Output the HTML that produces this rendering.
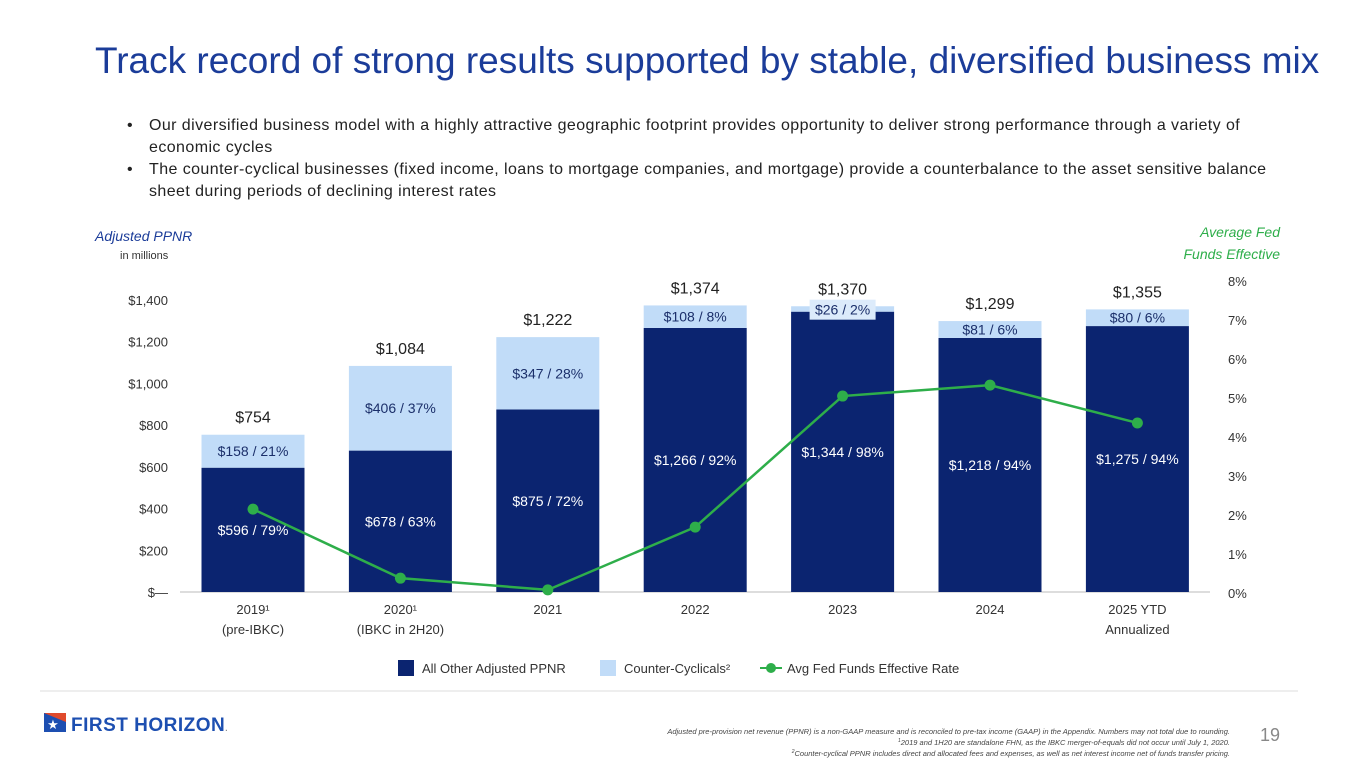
<!DOCTYPE html>
<html><head><meta charset="utf-8"><style>
body{margin:0;width:1365px;height:768px;background:#fff;font-family:"Liberation Sans",sans-serif;overflow:hidden;position:relative}
.t{position:absolute}
.b{display:flex}
.b .d{width:22px;flex:none;letter-spacing:0}
</style></head><body>
<div class="t" style="left:95px;top:40px;font-size:37px;color:#1b3c99">Track record of strong results supported by stable, diversified business mix</div>
<div class="t" style="left:127px;top:115px;width:1220px;font-size:16px;letter-spacing:0.42px;line-height:22px;color:#222;white-space:nowrap">
<div class="b"><span class="d">•</span><span>Our diversified business model with a highly attractive geographic footprint provides opportunity to deliver strong performance through a variety of<br>economic cycles</span></div>
<div class="b"><span class="d">•</span><span>The counter-cyclical businesses (fixed income, loans to mortgage companies, and mortgage) provide a counterbalance to the asset sensitive balance<br>sheet during periods of declining interest rates</span></div>
</div>
<svg id="c" width="1365" height="768" style="position:absolute;left:0;top:0" font-family="Liberation Sans, sans-serif">
<text x="95" y="241" font-size="14" font-style="italic" fill="#1b3c99">Adjusted PPNR</text>
<text x="120" y="259" font-size="11" fill="#333">in millions</text>
<text x="1280" y="237" font-size="14" font-style="italic" fill="#2eae4a" text-anchor="end">Average Fed</text>
<text x="1280" y="259" font-size="14" font-style="italic" fill="#2eae4a" text-anchor="end">Funds Effective</text>
<line x1="180" y1="592" x2="1210" y2="592" stroke="#bbb"/>
<g id="g"></g>
<g font-size="13" fill="#333">
<rect x="398" y="660" width="16" height="16" fill="#0b2470"/>
<text x="422" y="673">All Other Adjusted PPNR</text>
<rect x="600" y="660" width="16" height="16" fill="#c1dcf8"/>
<text x="624" y="673">Counter-Cyclicals²</text>
<line x1="760" y1="668" x2="782" y2="668" stroke="#2eae4a" stroke-width="2"/>
<circle cx="771" cy="668" r="5" fill="#2eae4a"/>
<text x="787" y="673">Avg Fed Funds Effective Rate</text>
</g>
<line x1="40" y1="691" x2="1298" y2="691" stroke="#ddd"/>
<g>
<rect x="44" y="713" width="22" height="19" fill="#1d4fb1"/>
<polygon points="44,713 66,713 66,722" fill="#e04a2c"/>
<text x="53" y="729" font-size="13" fill="#fff" text-anchor="middle">★</text>
<text x="71" y="731" font-size="19" font-weight="bold" fill="#1d4fb1" letter-spacing="0.5">FIRST HORIZON<tspan font-size="8" fill="#888">.</tspan></text>
</g>
<g font-size="7.5" font-style="italic" fill="#444" text-anchor="end">
<text x="1230" y="734">Adjusted pre-provision net revenue (PPNR) is a non-GAAP measure and is reconciled to pre-tax income (GAAP) in the Appendix. Numbers may not total due to rounding.</text>
<text x="1230" y="745"><tspan font-size="5" dy="-3">1</tspan><tspan dy="3">2019 and 1H20 are standalone FHN, as the IBKC merger-of-equals did not occur until July 1, 2020.</tspan></text>
<text x="1230" y="756"><tspan font-size="5" dy="-3">2</tspan><tspan dy="3">Counter-cyclical PPNR includes direct and allocated fees and expenses, as well as net interest income net of funds transfer pricing.</tspan></text>
</g>
<text x="1260" y="741" font-size="18" fill="#888">19</text>
</svg>
<script>
const categories=["2019¹|(pre-IBKC)","2020¹|(IBKC in 2H20)","2021","2022","2023","2024","2025 YTD|Annualized"];
const otherVals=[596,678,875,1266,1344,1218,1275];
const otherPct=[79,63,72,92,98,94,94];
const counterVals=[158,406,347,108,26,81,80];
const counterPct=[21,37,28,8,2,6,6];
const totals=[754,1084,1222,1374,1370,1299,1355];
const rates=[2.15,0.38,0.08,1.69,5.05,5.33,4.36];
const yTicks=[0,200,400,600,800,1000,1200,1400];
const rTicks=[0,1,2,3,4,5,6,7,8];
const NS="http://www.w3.org/2000/svg";
const g=document.getElementById('g');
const y=v=>592-v*292/1400;
const yr=v=>593-v*39;
const xc=i=>253+i*147.4;
const bw=103;
function el(t,a,txt){const e=document.createElementNS(NS,t);for(const k in a)e.setAttribute(k,a[k]);if(txt!=null)e.textContent=txt;g.appendChild(e);return e;}
const fmt=v=>'$'+v.toLocaleString('en-US');
yTicks.forEach(v=>{const e=el('text',{x:168,y:y(v)+5,'font-size':13,fill:'#333','text-anchor':'end'},v===0?'$—':fmt(v));

});
rTicks.forEach(v=>{const e=el('text',{x:1228,y:yr(v)+5,'font-size':13,fill:'#333'},v+'%');

});
categories.forEach((c,i)=>{const x=xc(i);
const d=el('rect',{x:x-bw/2,y:y(otherVals[i]),width:bw,height:592-y(otherVals[i]),fill:'#0b2470'});


const top=otherVals[i]+counterVals[i];
const l=el('rect',{x:x-bw/2,y:y(top),width:bw,height:y(otherVals[i])-y(top),fill:'#c1dcf8'});


const a=el('text',{x:x,y:(y(otherVals[i])+592)/2+5,'font-size':14,fill:'#fff','text-anchor':'middle'},fmt(otherVals[i])+' / '+otherPct[i]+'%');


let ly=(y(otherVals[i])+y(top))/2+5;
if(y(otherVals[i])-y(top)<16){ly=y(otherVals[i])+3;
const bx=el('rect',{x:x-33,y:ly-15,width:66,height:20,fill:'#dcebfb'});

}
const b=el('text',{x:x,y:ly,'font-size':14,fill:'#1b2f6a','text-anchor':'middle'},'$'+counterVals[i]+' / '+counterPct[i]+'%');


const t=el('text',{x:x,y:y(top)-12,'font-size':16,fill:'#222','text-anchor':'middle'},fmt(totals[i]));


c.split('|').forEach((s,j)=>{const e=el('text',{x:x,y:614+j*20,'font-size':13,fill:'#333','text-anchor':'middle'},s);

});
});
const ln=el('polyline',{points:rates.map((r,i)=>xc(i)+','+yr(r)).join(' '),fill:'none',stroke:'#2eae4a','stroke-width':2.5});


rates.forEach((r,i)=>{const p=el('circle',{cx:xc(i),cy:yr(r),r:5.5,fill:'#2eae4a'});

});
</script>
</body></html>
